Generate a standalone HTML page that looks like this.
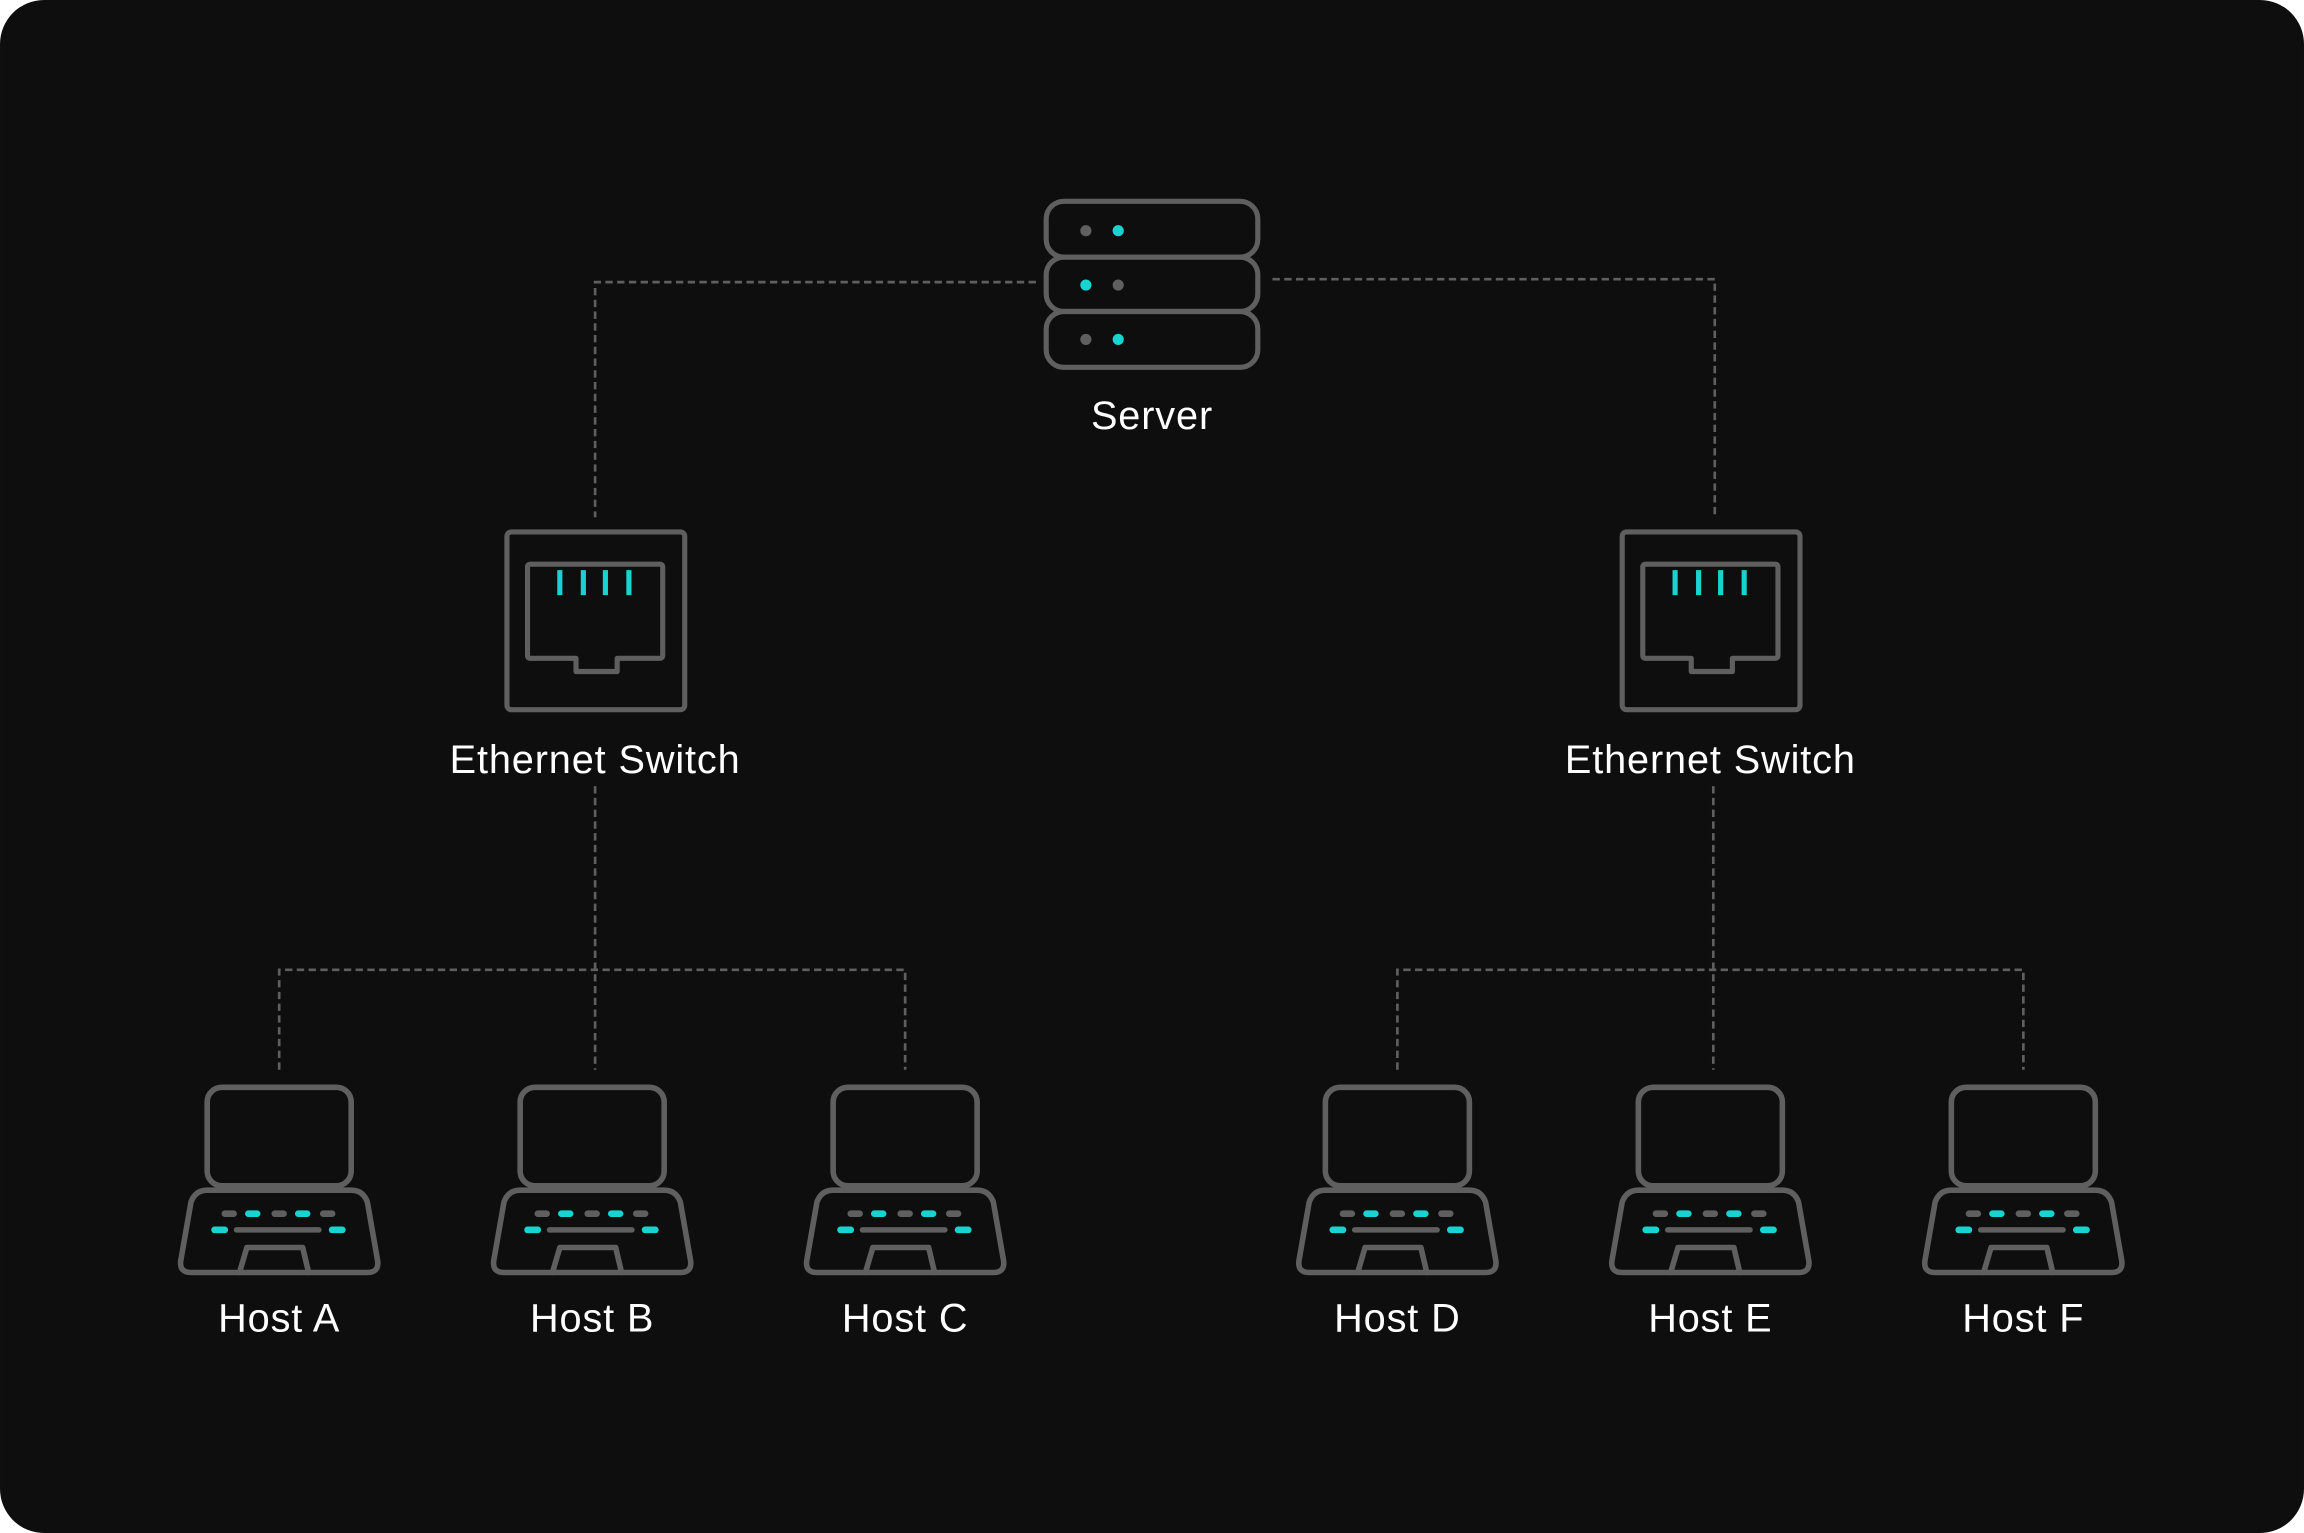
<!DOCTYPE html><html><head><style>html,body{margin:0;padding:0;background:#fff}svg{display:block}</style></head><body>
<svg width="2304" height="1533" viewBox="0 0 1568 1043.3" xmlns="http://www.w3.org/2000/svg">
<defs>
<g id="lap" fill="none" stroke="#5f5f5f" stroke-width="3.8" stroke-linejoin="round" stroke-linecap="round">
<rect x="-49" y="0" width="98" height="67" rx="10"/>
<path d="M-49,70 L49,70 Q57,70 60,78 L67,118 Q68,126 60,126 L-60,126 Q-68,126 -67,118 L-60,78 Q-57,70 -49,70 Z"/>
<path d="M-27,126 L-22,109 L16,109 L20,126"/>
<line x1="-29" y1="97" x2="27" y2="97"/>
</g>
<g id="keys" stroke-width="4.5" stroke-linecap="round">
<line x1="-37" y1="86" x2="-31" y2="86" stroke="#5f5f5f"/><line x1="-21" y1="86" x2="-15" y2="86" stroke="#19d3d0"/><line x1="-3" y1="86" x2="3" y2="86" stroke="#5f5f5f"/><line x1="13" y1="86" x2="19" y2="86" stroke="#19d3d0"/><line x1="30" y1="86" x2="36" y2="86" stroke="#5f5f5f"/><line x1="-44" y1="97" x2="-37" y2="97" stroke="#19d3d0"/><line x1="36" y1="97" x2="43" y2="97" stroke="#19d3d0"/>
</g>
<g id="sw" fill="none" stroke="#5f5f5f" stroke-width="3.5" stroke-linejoin="round">
<rect x="-60" y="0" width="121" height="121" rx="3"/>
<path d="M-44,22 L44,22 Q46,22 46,24 L46,84 Q46,86 44,86 L15,86 L15,95 L-13,95 L-13,86 L-44,86 Q-46,86 -46,84 L-46,24 Q-46,22 -44,22 Z"/>
<g stroke="#19d3d0" stroke-width="3.5"><line x1="-24" y1="26" x2="-24" y2="43"/><line x1="-8" y1="26" x2="-8" y2="43"/><line x1="7" y1="26" x2="7" y2="43"/><line x1="23" y1="26" x2="23" y2="43"/></g>
</g>
</defs>
<rect x="0" y="0" width="1568" height="1043.3" rx="30" fill="#0e0e0e"/>
<g stroke="#5f5f5f" stroke-width="1.8" stroke-dasharray="5,3" fill="none">
<path d="M705,192 L405,192 L405,352"/>
<path d="M866,190 L1167,190 L1167,352"/>
<path d="M405,535 L405,728 M190,728 L190,660 L616,660 L616,728"/>
<path d="M1166,535 L1166,728 M951,728 L951,660 L1377,660 L1377,728"/>
</g>
<g fill="#0e0e0e" stroke="#5f5f5f" stroke-width="3.5">
<rect x="712" y="137" width="144" height="38" rx="12"/>
<rect x="712" y="175" width="144" height="37" rx="12"/>
<rect x="712" y="212" width="144" height="38" rx="12"/>
</g>
<circle cx="739" cy="157" r="3.8" fill="#5f5f5f"/><circle cx="761" cy="157" r="3.8" fill="#19d3d0"/>
<circle cx="739" cy="194" r="3.8" fill="#19d3d0"/><circle cx="761" cy="194" r="3.8" fill="#5f5f5f"/>
<circle cx="739" cy="231" r="3.8" fill="#5f5f5f"/><circle cx="761" cy="231" r="3.8" fill="#19d3d0"/>
<use href="#sw" x="405" y="362"/><use href="#sw" x="1164" y="362"/>
<g transform="translate(190,740)"><use href="#lap"/><use href="#keys"/></g>
<g transform="translate(403,740)"><use href="#lap"/><use href="#keys"/></g>
<g transform="translate(616,740)"><use href="#lap"/><use href="#keys"/></g>
<g transform="translate(951,740)"><use href="#lap"/><use href="#keys"/></g>
<g transform="translate(1164,740)"><use href="#lap"/><use href="#keys"/></g>
<g transform="translate(1377,740)"><use href="#lap"/><use href="#keys"/></g>
<g fill="#ffffff" font-family="Liberation Sans, sans-serif" font-size="27" letter-spacing="0.6" text-anchor="middle">
<text x="784" y="292">Server</text>
<text x="405" y="526">Ethernet Switch</text>
<text x="1164" y="526">Ethernet Switch</text>
<text x="190" y="906">Host A</text>
<text x="403" y="906">Host B</text>
<text x="616" y="906">Host C</text>
<text x="951" y="906">Host D</text>
<text x="1164" y="906">Host E</text>
<text x="1377" y="906">Host F</text>
</g>
</svg>
</body></html>
